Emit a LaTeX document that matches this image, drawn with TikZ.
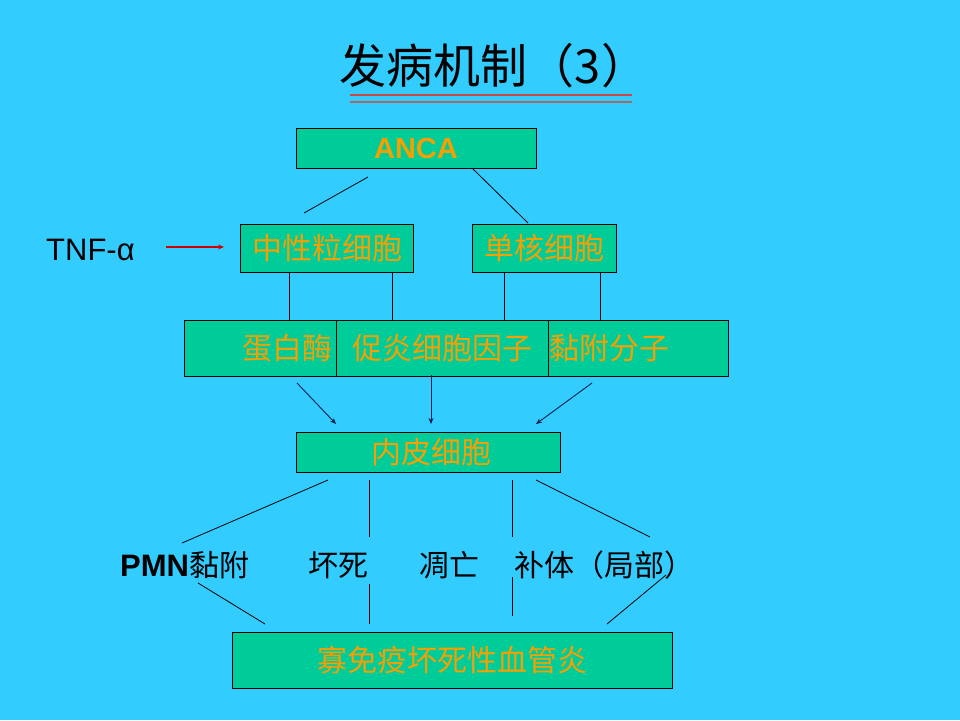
\documentclass[tikz,border=0pt]{standalone}
\usepackage{fontspec}
\newfontfamily\cjk{Noto Sans CJK SC}
\newfontfamily\latin{Liberation Sans}
\usetikzlibrary{arrows.meta}
\definecolor{bgblue}{HTML}{33CCFF}
\definecolor{boxgreen}{HTML}{00CC99}
\definecolor{txtorange}{HTML}{F5A000}
\definecolor{navy}{HTML}{002050}
\definecolor{lineA}{HTML}{C84848}
\definecolor{lineB}{HTML}{A86868}
\tikzset{
  box/.style={draw=black, line width=0.9pt, fill=boxgreen, inner sep=0pt, anchor=north west},
  boxtxt/.style={text=txtorange, inner sep=0pt, font=\cjk\fontsize{30}{30}\selectfont},
  rowtxt/.style={text=black, inner sep=0pt, font=\cjk\fontsize{30}{30}\selectfont},
  link/.style={draw=black, line width=0.8pt},
  arr/.style={draw=navy, line width=0.9pt, -{Stealth[length=6pt,width=5pt]}},
}
\begin{document}
\begin{tikzpicture}[x=1pt,y=-1pt]
\fill[bgblue] (0,0) rectangle (960,720);
\useasboundingbox (0,0) rectangle (960,720);
% title
\node (title) [text=black, inner sep=0pt, font=\cjk\fontsize{47}{47}\selectfont] at (494,66) {发病机制（3）};
\draw[lineA, line width=1.2pt] (350,95) -- (632,95);
\draw[lineB, line width=1.2pt] (350,102) -- (632,102);
% boxes
\node (anca) [box, minimum width=240pt, minimum height=40pt] at (296,128) {};
\node [text=txtorange, inner sep=0pt, font=\latin\bfseries\fontsize{29}{29}\selectfont] at (416,149) {ANCA};
\node (neut) [box, minimum width=173pt, minimum height=48pt] at (240,224) {};
\node [boxtxt] at (327,248) {中性粒细胞};
\node (mono) [box, minimum width=144pt, minimum height=48pt] at (472,224) {};
\node [boxtxt] at (544,248) {单核细胞};
\node (prot) [box, minimum width=152pt, minimum height=56pt] at (184,320) {};
\node (cyto) [box, minimum width=212pt, minimum height=56pt] at (336,320) {};
\node (adh) [box, minimum width=180pt, minimum height=56pt] at (548,320) {};
\node [boxtxt] at (287,348) {蛋白酶};
\node [boxtxt] at (442,348) {促炎细胞因子};
\node [boxtxt] at (609,348) {黏附分子};
\node (endo) [box, minimum width=264pt, minimum height=40pt] at (296,432) {};
\node [boxtxt] at (431,452) {内皮细胞};
\node (final) [box, minimum width=440pt, minimum height=56pt] at (232,632) {};
\node [boxtxt] at (452,660) {寡免疫坏死性血管炎};
% TNF
\node (tnf) [text=black, inner sep=0pt, font=\latin\fontsize{31}{31}\selectfont, anchor=west] at (46,250) {TNF-α};
\draw[draw=red!80!black, line width=1.2pt, -{Stealth[length=6pt,width=5pt]}] (166,247) -- (224,247);
% row labels
\node (pmn) [rowtxt, anchor=west] at (120,565) {{\latin\bfseries\fontsize{31}{31}\selectfont PMN}黏附};
\node (necro) [rowtxt] at (338,565) {坏死};
\node (apop) [rowtxt] at (449,565) {凋亡};
\node (compl) [rowtxt, anchor=west] at (514,565) {补体（局部）};
% connectors
\draw[link] (368,177) -- (304,213);
\draw[link] (472,168) -- (528,223);
\draw[link] (289,272) -- (289,320);
\draw[link] (392,272) -- (392,320);
\draw[link] (504,272) -- (504,320);
\draw[link] (600,272) -- (600,320);
\draw[arr] (297,383) -- (336,424);
\draw[arr] (431,375) -- (431,424);
\draw[arr] (592,383) -- (536,424);
\draw[link] (328,480) -- (182,543);
\draw[link] (369,480) -- (369,537);
\draw[link] (512,480) -- (512,537);
\draw[link] (536,480) -- (650,537);
\draw[link] (198,583) -- (265,624);
\draw[link] (369,584) -- (369,624);
\draw[link] (512,577) -- (512,616);
\draw[link] (666,575) -- (607,624);
\end{tikzpicture}
\end{document}
